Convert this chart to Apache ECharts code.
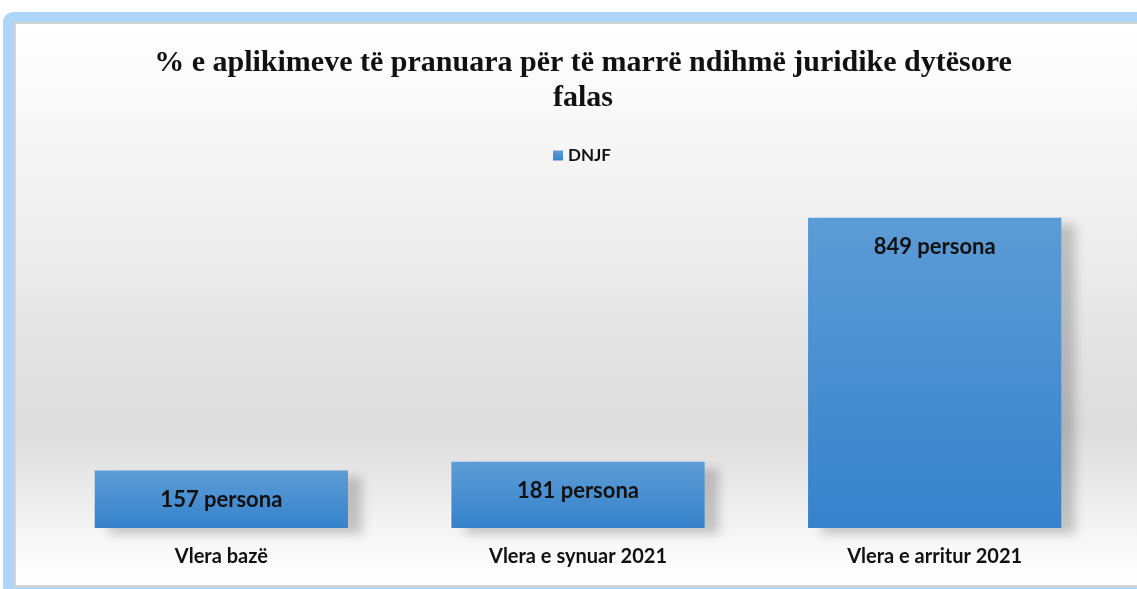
<!DOCTYPE html>
<html>
<head>
<meta charset="utf-8">
<title>DNJF</title>
<script src="https://cdn.jsdelivr.net/npm/echarts@6/dist/echarts.min.js"></script>
<style>
    html, body { margin: 0; padding: 0; background: #ffffff; }
    #main { width: 1137px; height: 589px; }
</style>
</head>
<body>
<div id="main"></div>
<script>
    var categories = ['Vlera bazë', 'Vlera e synuar 2021', 'Vlera e arritur 2021'];
    var dnjf_values = [157, 181, 849];
    var bar_labels = ['157 persona', '181 persona', '849 persona'];

    var my_chart = echarts.init(document.getElementById('main'));

    var label_font = 'Lato, "Open Sans", sans-serif';

    var option = {
        backgroundColor: '#ffffff',
        graphic: [
            // blue glow frame
            {
                type: 'rect',
                z: -10,
                shape: { x: 3, y: 12, width: 1150, height: 590, r: 10 },
                style: { fill: '#aed6f8' }
            },
            {
                type: 'rect',
                z: -9,
                shape: { x: 14, y: 22, width: 1140, height: 565 },
                style: { fill: '#d4d4d4' }
            },
            // chart area background
            {
                type: 'rect',
                z: -8,
                shape: { x: 16, y: 24, width: 1140, height: 561 },
                style: {
                    fill: new echarts.graphic.LinearGradient(0, 0, 0, 1, [
                        { offset: 0, color: '#ffffff' },
                        { offset: 0.3, color: '#f2f2f2' },
                        { offset: 0.72, color: '#dcdcdc' },
                        { offset: 0.95, color: '#fbfbfb' },
                        { offset: 1, color: '#ffffff' }
                    ])
                }
            }
        ],
        title: {
            text: '% e aplikimeve të pranuara për të marrë ndihmë juridike dytësore\nfalas',
            left: 578,
            textAlign: 'center',
            top: 41,
            textStyle: {
                fontFamily: '"Liberation Serif", "Times New Roman", serif',
                fontWeight: 'bold',
                fontSize: 30,
                lineHeight: 35,
                color: '#111111'
            }
        },
        legend: {
            data: ['DNJF'],
            top: 142,
            left: 548,
            itemWidth: 10,
            itemHeight: 10,
            itemGap: 8,
            icon: 'rect',
            textStyle: {
                fontFamily: label_font,
                fontWeight: 'bold',
                fontSize: 17,
                color: '#111111'
            }
        },
        grid: {
            left: 43,
            right: 24,
            top: 199,
            bottom: 61,
            containLabel: false
        },
        xAxis: {
            type: 'category',
            data: categories,
            axisLine: { show: false },
            axisTick: { show: false },
            axisLabel: {
                margin: 19,
                fontFamily: label_font,
                fontWeight: 'bold',
                fontSize: 20,
                color: '#111111'
            }
        },
        yAxis: {
            type: 'value',
            min: 0,
            max: 900,
            show: false,
            splitLine: { show: false }
        },
        series: [{
            name: 'DNJF',
            type: 'bar',
            data: dnjf_values,
            barWidth: '71%',
            itemStyle: {
                color: new echarts.graphic.LinearGradient(0, 0, 0, 1, [
                    { offset: 0, color: '#5c9cd6' },
                    { offset: 1, color: '#3682cb' }
                ]),
                shadowColor: 'rgba(0, 0, 0, 0.2)',
                shadowBlur: 10,
                shadowOffsetX: 14,
                shadowOffsetY: 6
            },
            label: {
                show: true,
                position: 'insideTop',
                distance: 18,
                formatter: function(p) {
                    return bar_labels[p.dataIndex];
                },
                fontFamily: label_font,
                fontWeight: 'bold',
                fontSize: 22,
                color: '#111111'
            }
        }]
    };

    my_chart.setOption(option);
</script>
</body>
</html>
